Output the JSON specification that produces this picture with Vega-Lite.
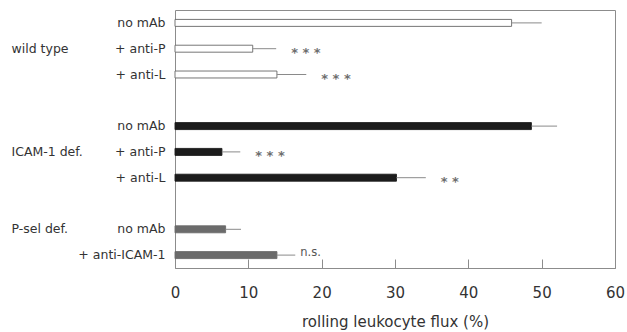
{
  "$schema": "https://vega.github.io/schema/vega-lite/v6.json",
  "width": 440,
  "height": 258,
  "autosize": "none",
  "padding": {"left": 175, "right": 12, "top": 10, "bottom": 64},
  "background": "white",
  "config": {
    "view": {"stroke": "#8c8c8c", "strokeWidth": 1},
    "font": "DejaVu Sans",
    "axis": {"labelColor": "#333", "titleColor": "#333", "labelFont": "DejaVu Sans", "titleFont": "DejaVu Sans"},
    "axisY": {"grid": false}
  },
  "data": {
    "values": [
      {"row": "wild type|no mAb", "genotype": "wild type", "treatment": "no mAb", "flux": 45.9, "upper": 50.0, "sig": ""},
      {"row": "wild type|+ anti-P", "genotype": "wild type", "treatment": "+ anti-P", "flux": 10.6, "upper": 13.8, "sig": "* * *"},
      {"row": "wild type|+ anti-L", "genotype": "wild type", "treatment": "+ anti-L", "flux": 13.9, "upper": 17.9, "sig": "* * *"},
      {"row": "ICAM-1 def.|no mAb", "genotype": "ICAM-1 def.", "treatment": "no mAb", "flux": 48.6, "upper": 52.1, "sig": ""},
      {"row": "ICAM-1 def.|+ anti-P", "genotype": "ICAM-1 def.", "treatment": "+ anti-P", "flux": 6.4, "upper": 8.9, "sig": "* * *"},
      {"row": "ICAM-1 def.|+ anti-L", "genotype": "ICAM-1 def.", "treatment": "+ anti-L", "flux": 30.2, "upper": 34.2, "sig": "* *"},
      {"row": "P-sel def.|no mAb", "genotype": "P-sel def.", "treatment": "no mAb", "flux": 6.9, "upper": 9.0, "sig": ""},
      {"row": "P-sel def.|+ anti-ICAM-1", "genotype": "P-sel def.", "treatment": "+ anti-ICAM-1", "flux": 13.9, "upper": 16.4, "sig": "n.s."}
    ]
  },
  "resolve": {"axis": {"y": "independent"}},
  "layer": [
    {
      "mark": {"type": "bar", "strokeWidth": 0.9},
      "encoding": {
        "y": {
          "field": "row", "type": "nominal", "sort": null,
          "scale": {
            "domain": ["wild type|no mAb", "wild type|+ anti-P", "wild type|+ anti-L", "gap1", "ICAM-1 def.|no mAb", "ICAM-1 def.|+ anti-P", "ICAM-1 def.|+ anti-L", "gap2", "P-sel def.|no mAb", "P-sel def.|+ anti-ICAM-1"],
            "paddingInner": 0.73, "paddingOuter": 0.365
          },
          "axis": {
            "orient": "left", "title": null, "ticks": false, "domain": false, "grid": false,
            "labelPadding": 10, "labelFontSize": 12.5, "labelAlign": "right",
            "labelExpr": "indexof(datum.value, '|') < 0 ? '' : split(datum.value, '|')[1]"
          }
        },
        "x": {
          "field": "flux", "type": "quantitative",
          "scale": {"domain": [0, 60], "nice": false},
          "axis": {
            "orient": "bottom",
            "values": [0, 10, 20, 30, 40, 50, 60],
            "title": "rolling leukocyte flux (%)",
            "titleFontSize": 15, "titleFontWeight": "normal", "titlePadding": 14,
            "labelFontSize": 15, "labelPadding": 17, "labelFlush": false,
            "ticks": false, "domainColor": "#8c8c8c",
            "grid": true, "gridColor": "#8c8c8c", "gridWidth": 1, "gridDash": [9, 400], "gridOpacity": 1, "gridDashOffset": 0
          }
        },
        "fill": {
          "field": "genotype", "type": "nominal",
          "scale": {"domain": ["wild type", "ICAM-1 def.", "P-sel def."], "range": ["#ffffff", "#1c1c1c", "#6b6b6b"]},
          "legend": null
        },
        "stroke": {
          "field": "genotype", "type": "nominal",
          "scale": {"domain": ["wild type", "ICAM-1 def.", "P-sel def."], "range": ["#666666", "#1c1c1c", "#6b6b6b"]},
          "legend": null
        }
      }
    },
    {
      "mark": {"type": "rule", "color": "#8a8a8a", "strokeWidth": 1},
      "encoding": {
        "y": {
          "field": "row", "type": "nominal", "sort": null,
          "axis": {
            "orient": "left", "title": null, "ticks": false, "domain": false, "grid": false,
            "labelPadding": 164, "labelFontSize": 12.5, "labelAlign": "left",
            "labelExpr": "datum.value === 'wild type|+ anti-P' ? 'wild type' : datum.value === 'ICAM-1 def.|+ anti-P' ? 'ICAM-1 def.' : datum.value === 'P-sel def.|no mAb' ? 'P-sel def.' : ''",
            "encode": {"labels": {"update": {"dy": {"signal": "datum.value === 'P-sel def.|no mAb' ? 12 : 0"}}}}
          }
        },
        "x": {"field": "flux", "type": "quantitative"},
        "x2": {"field": "upper"}
      }
    },
    {
      "transform": [{"filter": "datum.sig !== '' && datum.sig !== 'n.s.'"}],
      "mark": {"type": "text", "align": "left", "baseline": "middle", "dx": 15, "dy": 4, "fontSize": 13, "fontWeight": "bold", "color": "#6e6e6e"},
      "encoding": {
        "y": {"field": "row", "type": "nominal", "sort": null, "axis": null},
        "x": {"field": "upper", "type": "quantitative"},
        "text": {"field": "sig"}
      }
    },
    {
      "transform": [{"filter": "datum.sig === 'n.s.'"}],
      "mark": {"type": "text", "align": "left", "baseline": "middle", "dx": 5, "dy": -2, "fontSize": 11.5, "color": "#555"},
      "encoding": {
        "y": {"field": "row", "type": "nominal", "sort": null, "axis": null},
        "x": {"field": "upper", "type": "quantitative"},
        "text": {"field": "sig"}
      }
    }
  ]
}
